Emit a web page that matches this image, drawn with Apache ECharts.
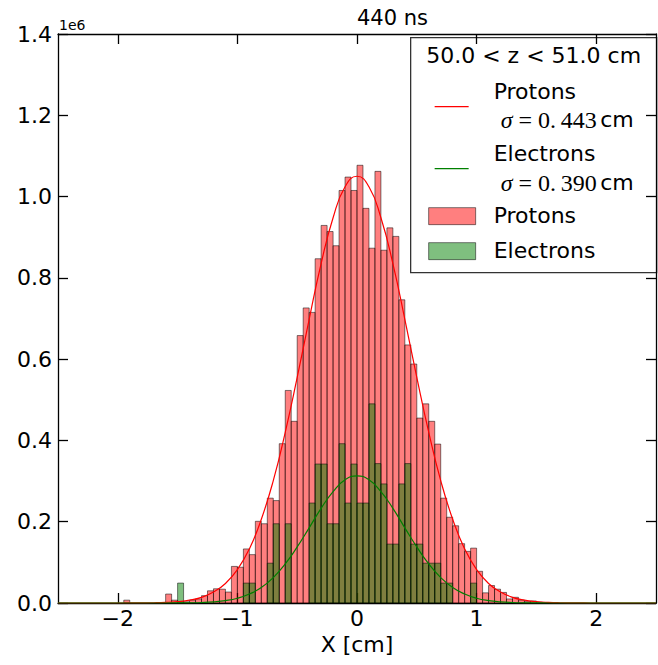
<!DOCTYPE html>
<html><head><meta charset="utf-8">
<script src="https://cdn.jsdelivr.net/npm/echarts@6/dist/echarts.min.js"></script>
<style>html,body{margin:0;padding:0;background:#fff}#c{width:658px;height:665px}</style>
</head><body><div id="c"></div>
<script>
// ---- data (values in units of 1e6) ----
const binWidth = 0.05;
const binLeft = [
 -1.95,-1.90,-1.85,-1.80,-1.75,-1.70,-1.65,-1.60,-1.55,-1.50,
 -1.45,-1.40,-1.35,-1.30,-1.25,-1.20,-1.15,-1.10,-1.05,-1.00,
 -0.95,-0.90,-0.85,-0.80,-0.75,-0.70,-0.65,-0.60,-0.55,-0.50,
 -0.45,-0.40,-0.35,-0.30,-0.25,-0.20,-0.15,-0.10,-0.05,0.00,
 0.05,0.10,0.15,0.20,0.25,0.30,0.35,0.40,0.45,0.50,
 0.55,0.60,0.65,0.70,0.75,0.80,0.85,0.90,0.95,1.00,
 1.05,1.10,1.15,1.20,1.25,1.30,1.35,1.40,1.45,1.50,
 1.55];
const protons = [
 0.007,0,0,0,0,0,0,0.022,0.007,0.003,
 0.003,0.007,0.010,0.018,0.030,0.035,0.034,0.027,0.090,0.088,
 0.133,0.119,0.201,0.195,0.258,0.252,0.392,0.523,0.447,0.658,
 0.726,0.715,0.847,0.929,0.914,0.879,1.015,1.048,1.015,1.077,
 0.971,0.873,1.062,0.868,0.923,0.902,0.746,0.635,0.588,0.455,
 0.490,0.447,0.391,0.258,0.211,0.190,0.146,0.127,0.135,0.078,
 0.025,0.043,0.034,0.026,0.010,0.014,0.007,0.004,0.005,0.002,
 0.001];
const electrons = [
 0,0,0,0,0,0,0,0,0,0.049,
 0,0,0,0,0,0,0,0,0,0,
 0.049,0.049,0,0,0.098,0.195,0,0.195,0,0,
 0,0.246,0.342,0.342,0.195,0.195,0.392,0.246,0.342,0.246,
 0.246,0.490,0.343,0.293,0.145,0.145,0.293,0.343,0.145,0.145,
 0.098,0.098,0.098,0.049,0.049,0,0,0,0.049,0,
 0,0,0,0,0,0,0,0,0,0,
 0];
const fitX = [-2.5,-2.0,-1.9,-1.8,-1.7,-1.6,-1.5,-1.4,-1.3,-1.2,-1.1,-1.0,-0.9,-0.8,-0.7,-0.6,-0.5,-0.4,-0.3,-0.2,-0.1,
  0,0.1,0.2,0.3,0.4,0.5,0.6,0.7,0.8,0.9,1.0,1.1,1.2,1.3,1.4,1.5,1.6,1.7,1.8,1.9,2.0,2.5];
const protonFit = [0,0,0.0001,0.0003,0.0006,0.0015,0.0034,0.007,0.014,0.027,0.048,0.082,0.133,0.206,0.301,0.420,0.555,0.698,0.835,0.948,1.024,
  1.050,1.024,0.948,0.835,0.698,0.555,0.420,0.301,0.206,0.133,0.082,0.048,0.027,0.014,0.007,0.0034,0.0015,0.0006,0.0003,0.0001,0,0];
const electronFit = [0,0,0,0,0,0,0.0002,0.0005,0.0012,0.0028,0.0059,0.0117,0.022,0.038,0.0625,0.096,0.138,0.185,0.233,0.274,0.303,
  0.313,0.303,0.274,0.233,0.185,0.138,0.096,0.0625,0.038,0.022,0.0117,0.0059,0.0028,0.0012,0.0005,0.0002,0,0,0,0,0,0];
const xTicks = [-2,-1,0,1,2];
const yTicks = [0,0.2,0.4,0.6,0.8,1.0,1.2,1.4];
const legendTitle = '50.0 < z < 51.0 cm';
const seriesNames = ['Protons','Electrons'];
const sigmas = ['0.\u2009443','0.\u2009390'];

const FONT = 'DejaVu Sans';
const chart = echarts.init(document.getElementById('c'), null, {renderer:'svg'});

function histData(vals){
  return vals.map((v,i)=>[binLeft[i], binLeft[i]+binWidth, v]).filter(d=>d[2]>0);
}
function barRender(fill){
  return function(params, api){
    const a = api.coord([api.value(0), api.value(2)]);
    const b = api.coord([api.value(1), 0]);
    return {type:'rect', shape:{x:a[0], y:a[1], width:b[0]-a[0], height:b[1]-a[1]},
      style:{fill:fill, stroke:'rgba(0,0,0,0.5)', lineWidth:1}};
  };
}
const minus = v => (v<0 ? '\u2212'+Math.abs(v) : String(v));

const axisLine = {show:true, onZero:false, lineStyle:{color:'#000', width:1.3}};
const tick = {show:true, inside:true, length:10, lineStyle:{color:'#000', width:1.3}};
const richSigma = {
  i:{fontFamily:'Liberation Serif', fontStyle:'italic', fontSize:24, fill:'#000'},
  m:{fontFamily:'Liberation Serif', fontSize:24, fill:'#000'},
  s:{fontFamily:FONT, fontSize:22, fill:'#000'}
};
const option = {
  animation:false,
  backgroundColor:'#fff',
  grid:{left:58, right:2, top:34, bottom:62, containLabel:false},
  xAxis:[
    {type:'value', min:-2.5, max:2.5, position:'bottom',
     axisLine:axisLine, splitLine:{show:false},
     axisTick:Object.assign({customValues:xTicks}, tick),
     axisLabel:{customValues:xTicks, formatter:minus, fontFamily:FONT, fontSize:22, color:'#000', margin:4},
     name:'X [cm]', nameLocation:'middle', nameGap:29,
     nameTextStyle:{fontFamily:FONT, fontSize:22, color:'#000'}},
    {type:'value', min:-2.5, max:2.5, position:'top',
     axisLine:axisLine, splitLine:{show:false},
     axisTick:Object.assign({customValues:xTicks}, tick),
     axisLabel:{show:false}}
  ],
  yAxis:[
    {type:'value', min:0, max:1.4, interval:0.2, position:'left',
     axisLine:axisLine, splitLine:{show:false}, axisTick:tick,
     axisLabel:{formatter:v=>v.toFixed(1), fontFamily:FONT, fontSize:22, color:'#000', margin:6}},
    {type:'value', min:0, max:1.4, interval:0.2, position:'right',
     axisLine:axisLine, splitLine:{show:false}, axisTick:tick,
     axisLabel:{show:false}}
  ],
  series:[
    {type:'custom', name:'Protons hist', renderItem:barRender('rgba(255,0,0,0.5)'),
     data:histData(protons), encode:{x:[0,1], y:2}, z:1},
    {type:'custom', name:'Electrons hist', renderItem:barRender('rgba(0,128,0,0.5)'),
     data:histData(electrons), encode:{x:[0,1], y:2}, z:2},
    {type:'line', name:'Protons fit', data:fitX.map((x,i)=>[x, protonFit[i]]), smooth:true, showSymbol:false,
     lineStyle:{color:'#ff0000', width:1.2}, z:3},
    {type:'line', name:'Electrons fit', data:fitX.map((x,i)=>[x, electronFit[i]]), smooth:true, showSymbol:false,
     lineStyle:{color:'#008000', width:1.2}, z:4}
  ],
  graphic:[
    {type:'text', left:357, top:7, style:{text:'440 ns', font:'21px "DejaVu Sans"', fill:'#000', textAlign:'center'}},
    {type:'text', left:59, top:18, style:{text:'1e6', font:'14px "DejaVu Sans"', fill:'#000'}},
    {type:'group', left:410, top:37, children:[
      {type:'rect', shape:{x:0, y:0, width:246, height:235}, style:{fill:'#fff', stroke:'#333', lineWidth:1.3}},
      {type:'text', x:123, y:18, style:{text:legendTitle, font:'22px "DejaVu Sans"', fill:'#000', textAlign:'center', textVerticalAlign:'middle'}},
      {type:'line', shape:{x1:24, y1:69, x2:58, y2:69}, style:{stroke:'#ff0000', lineWidth:1.2}},
      {type:'text', x:83, y:54, style:{text:seriesNames[0], font:'22px "DejaVu Sans"', fill:'#000', textVerticalAlign:'middle'}},
      {type:'text', x:90, y:82, style:{rich:richSigma,
        text:'{i|\u03c3}{m| = '+sigmas[0]+'} {s|cm}', textVerticalAlign:'middle'}},
      {type:'line', shape:{x1:24, y1:131, x2:58, y2:131}, style:{stroke:'#008000', lineWidth:1.2}},
      {type:'text', x:83, y:116, style:{text:seriesNames[1], font:'22px "DejaVu Sans"', fill:'#000', textVerticalAlign:'middle'}},
      {type:'text', x:90, y:145, style:{rich:richSigma,
        text:'{i|\u03c3}{m| = '+sigmas[1]+'} {s|cm}', textVerticalAlign:'middle'}},
      {type:'rect', shape:{x:18, y:170, width:47, height:17}, style:{fill:'rgba(255,0,0,0.5)', stroke:'rgba(0,0,0,0.5)', lineWidth:1}},
      {type:'text', x:83, y:178, style:{text:seriesNames[0], font:'22px "DejaVu Sans"', fill:'#000', textVerticalAlign:'middle'}},
      {type:'rect', shape:{x:18, y:205, width:47, height:17}, style:{fill:'rgba(0,128,0,0.5)', stroke:'rgba(0,0,0,0.5)', lineWidth:1}},
      {type:'text', x:83, y:213, style:{text:seriesNames[1], font:'22px "DejaVu Sans"', fill:'#000', textVerticalAlign:'middle'}}
    ]}
  ]
};
chart.setOption(option);
</script></body></html>
